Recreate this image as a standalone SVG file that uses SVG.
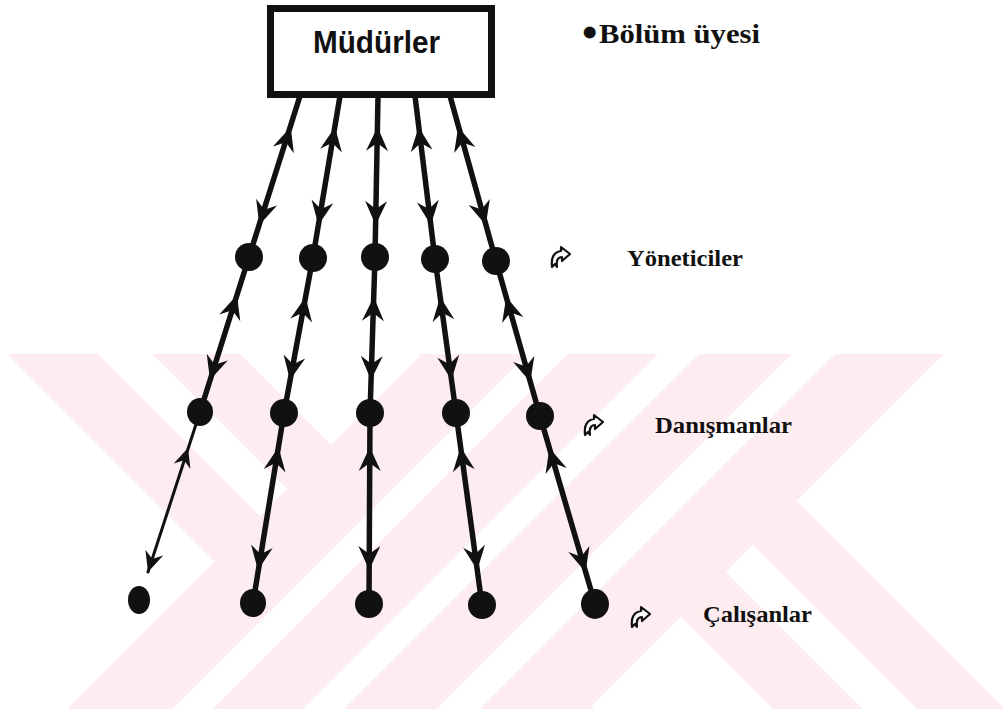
<svg xmlns="http://www.w3.org/2000/svg" width="1004" height="719" viewBox="0 0 1004 719">
<style>
.wm{fill:#fdedf0;stroke:none}
.gap{fill:#fff;stroke:none}
.edge{stroke:#111;stroke-width:5.5;fill:none;stroke-linecap:round}
.thin{stroke-width:3}
.dot{fill:#111}
.lbl{font-family:"Liberation Serif","Times New Roman",serif;font-weight:bold;fill:#111}
.icon{fill:#fff;stroke:#111;stroke-width:2.2;stroke-linejoin:round}
</style>
<defs>
<path id="ah" d="M0,0 L-24,-11 L-16,0 L-24,11 Z" fill="#111"/>
<g id="ico">
<path class="icon" d="M2,22 C1,13 4,7 11,6 L11,2 L20,9 L12,16 L12,12 C8,12 6,15 7,22 L5,19 Z"/>
</g>
<clipPath id="wmclip"><rect x="0" y="354" width="1004" height="355"/></clipPath>
</defs>
<rect width="1004" height="719" fill="#fff"/>
<g id="watermark" clip-path="url(#wmclip)">
<polygon class="wm" points="7,354 98,354 453,709 362,709"/>
<polygon class="wm" points="152,354 240,354 595,709 507,709"/>
<polygon class="wm" points="418,354 508,354 863,709 773,709"/>
<polygon class="wm" points="562,354 650,354 1005,709 917,709"/>
<polygon class="gap" points="528,354 568,354 213,709 173,709"/>
<polygon class="gap" points="658,354 699,354 344,709 303,709"/>
<polygon class="gap" points="792,354 835,354 480,709 437,709"/>
<polygon class="wm" points="422,354 528,354 173,709 67,709"/>
<polygon class="wm" points="568,354 658,354 303,709 213,709"/>
<polygon class="wm" points="699,354 792,354 437,709 344,709"/>
<polygon class="wm" points="835,354 944,354 589,709 480,709"/>
</g>
<g id="connectors">
<polyline class="edge" points="300,96 249,257 200,412"/>
<line class="edge thin" x1="200" y1="412" x2="148" y2="572"/>
<polyline class="edge" points="340,96 313,257 284,413 253,603"/>
<polyline class="edge" points="378,96 375,257 370,413 369,604"/>
<polyline class="edge" points="415,96 435,259 456,413 482,605"/>
<polyline class="edge" points="450,96 496,261 540,416 595,604"/>
<use href="#ah" transform="translate(290.7,127) rotate(287.8)"/>
<use href="#ah" transform="translate(259.3,225) rotate(107.8)"/>
<use href="#ah" transform="translate(237,295) rotate(287.5)"/>
<use href="#ah" transform="translate(210,380) rotate(107.5)"/>
<use href="#ah" transform="translate(188,448) rotate(288) scale(0.8)"/>
<use href="#ah" transform="translate(148,572) rotate(108) scale(0.85)"/>
<use href="#ah" transform="translate(335,127) rotate(279.6)"/>
<use href="#ah" transform="translate(318.4,225) rotate(99.6)"/>
<use href="#ah" transform="translate(305.6,297) rotate(280.5)"/>
<use href="#ah" transform="translate(290,380) rotate(100.5)"/>
<use href="#ah" transform="translate(278.5,447) rotate(279.3)"/>
<use href="#ah" transform="translate(258,570) rotate(99.3)"/>
<use href="#ah" transform="translate(377.5,127) rotate(271.1)"/>
<use href="#ah" transform="translate(375.6,225) rotate(91.1)"/>
<use href="#ah" transform="translate(373.7,297) rotate(271.8)"/>
<use href="#ah" transform="translate(371,380) rotate(91.8)"/>
<use href="#ah" transform="translate(369.8,447) rotate(270.3)"/>
<use href="#ah" transform="translate(369.2,570) rotate(90.3)"/>
<use href="#ah" transform="translate(418.6,127) rotate(262.9)"/>
<use href="#ah" transform="translate(430.8,225) rotate(82.9)"/>
<use href="#ah" transform="translate(440.2,297) rotate(262.2)"/>
<use href="#ah" transform="translate(451.5,380) rotate(82.2)"/>
<use href="#ah" transform="translate(460.6,447) rotate(262.3)"/>
<use href="#ah" transform="translate(477.3,570) rotate(82.3)"/>
<use href="#ah" transform="translate(458.2,127) rotate(254.2)"/>
<use href="#ah" transform="translate(485.8,225) rotate(74.2)"/>
<use href="#ah" transform="translate(506.2,297) rotate(254.15)"/>
<use href="#ah" transform="translate(530.3,382) rotate(74.15)"/>
<use href="#ah" transform="translate(549.4,448) rotate(253.7)"/>
<use href="#ah" transform="translate(585.6,572) rotate(73.7)"/>
</g>
<g id="mudurler">
<rect x="270.5" y="8.5" width="221" height="86" fill="#fff" stroke="#111" stroke-width="7"/>
<text x="313" y="53" font-family="'Liberation Sans',Arial,sans-serif" font-weight="bold" font-size="31" fill="#111" textLength="127" lengthAdjust="spacingAndGlyphs">Müdürler</text>
</g>
<g id="legend">
<text class="lbl" x="582" y="47" font-size="44"><tspan>•</tspan><tspan x="599" y="43" font-size="28" textLength="161" lengthAdjust="spacingAndGlyphs">Bölüm üyesi</tspan></text>
</g>
<g id="yoneticiler">
<ellipse class="dot" cx="249" cy="257" rx="14" ry="14"/>
<ellipse class="dot" cx="313" cy="258" rx="14" ry="14"/>
<ellipse class="dot" cx="375" cy="257" rx="14" ry="14"/>
<ellipse class="dot" cx="435" cy="259" rx="14" ry="14"/>
<ellipse class="dot" cx="496" cy="261" rx="14" ry="14"/>
<use href="#ico" transform="translate(550,245)"/>
<text class="lbl" x="627" y="266" font-size="24" textLength="116" lengthAdjust="spacingAndGlyphs">Yöneticiler</text>
</g>
<g id="danismanlar">
<ellipse class="dot" cx="200" cy="412" rx="13" ry="14"/>
<ellipse class="dot" cx="284" cy="413" rx="14" ry="14"/>
<ellipse class="dot" cx="370" cy="413" rx="14" ry="14"/>
<ellipse class="dot" cx="456" cy="413" rx="14" ry="14"/>
<ellipse class="dot" cx="540" cy="416" rx="14" ry="14"/>
<use href="#ico" transform="translate(583,413)"/>
<text class="lbl" x="655" y="433" font-size="24" textLength="137" lengthAdjust="spacingAndGlyphs">Danışmanlar</text>
</g>
<g id="calisanlar">
<ellipse class="dot" cx="139" cy="600" rx="11" ry="14"/>
<ellipse class="dot" cx="253" cy="603" rx="13" ry="14"/>
<ellipse class="dot" cx="369" cy="604" rx="14" ry="14"/>
<ellipse class="dot" cx="482" cy="605" rx="14" ry="14"/>
<ellipse class="dot" cx="595" cy="604" rx="14" ry="15"/>
<use href="#ico" transform="translate(630,605)"/>
<text class="lbl" x="703" y="622" font-size="24" textLength="109" lengthAdjust="spacingAndGlyphs">Çalışanlar</text>
</g>
</svg>
